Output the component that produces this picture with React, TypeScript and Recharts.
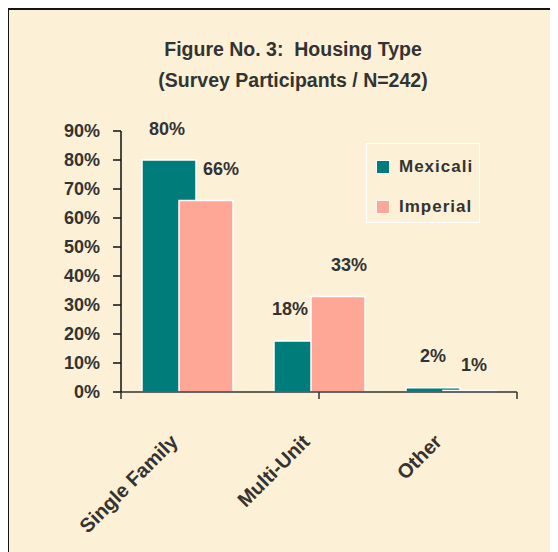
import { BarChart, Bar, XAxis, YAxis, LabelList, Legend } from "recharts";

const CATEGORIES = ["Single Family", "Multi-Unit", "Other"];
const MEXICALI = [80, 17.6, 1.5];
const IMPERIAL = [66, 32.9, 0.5];
const Y_TICKS = [0, 10, 20, 30, 40, 50, 60, 70, 80, 90];

const SERIES = [
    { key: "Mexicali", color: "#007C7B" },
    { key: "Imperial", color: "#FFA797" },
];

// hand-placed label nudges, as in the original figure
const LABEL_NUDGE: Record<string, { dx: number; dy: number }[]> = {
    Mexicali: [
        { dx: -2, dy: 1 },
        { dx: -11, dy: 0 },
        { dx: 0, dy: 0 },
    ],
    Imperial: [
        { dx: 15, dy: 0 },
        { dx: 11, dy: 0 },
        { dx: 4, dy: 6 },
    ],
};

const FONT = '"Liberation Sans", Arial, sans-serif';
const TEXT = "#333333";
const BG = "#FCF0D6";

const data = CATEGORIES.map((name, i) => ({
    name,
    Mexicali: MEXICALI[i],
    Imperial: IMPERIAL[i],
}));

const edgeTicks = [...CATEGORIES.map((_, i) => i), CATEGORIES.length];

const CategoryTick = (props: any) => {
    const { x, y, payload } = props;
    return (
        <text
            transform={`translate(${x - 8},${y + 50}) rotate(-45)`}
            textAnchor="end"
            fontSize={20}
            fontWeight="bold"
            fontFamily={FONT}
            fill={TEXT}
        >
            {payload.value}
        </text>
    );
};

const EmptyTick = () => <g />;

const makeLabel = (series: string) => (props: any) => {
    const { x, y, width, value, index } = props;
    const nudge = LABEL_NUDGE[series][index] || { dx: 0, dy: 0 };
    return (
        <text
            x={x + width / 2 + nudge.dx}
            y={y - 32 + nudge.dy}
            dy="0.35em"
            textAnchor="middle"
            fontSize={18}
            fontWeight="bold"
            fontFamily={FONT}
            fill={TEXT}
        >
            {`${Math.round(value)}%`}
        </text>
    );
};

const LegendBox = () => (
    <div
        style={{
            width: 114,
            height: 80,
            boxSizing: "border-box",
            border: "1px solid #ffffff",
            fontFamily: FONT,
            fontWeight: "bold",
            fontSize: 17,
            letterSpacing: 1,
            color: TEXT,
            position: "relative",
        }}
    >
        {SERIES.map((s, i) => (
            <div
                key={s.key}
                style={{
                    position: "absolute",
                    left: 9,
                    top: 12 + i * 40,
                    display: "flex",
                    alignItems: "center",
                    height: 22,
                }}
            >
                <span
                    style={{
                        width: 14,
                        height: 14,
                        boxSizing: "border-box",
                        background: s.color,
                        border: "1.5px solid #ffffff",
                        marginRight: 9,
                        display: "inline-block",
                    }}
                />
                <span>{s.key}</span>
            </div>
        ))}
    </div>
);

export default function App() {
    return (
        <div
            style={{
                position: "relative",
                width: 550,
                height: 544,
                background: BG,
                fontFamily: FONT,
            }}
        >
            <div
                style={{
                    position: "absolute",
                    left: -1,
                    top: 0,
                    right: 0,
                    bottom: 0,
                    borderTop: "2px solid #151515",
                    borderLeft: "2px solid #151515",
                }}
            />
            <div
                style={{
                    position: "absolute",
                    left: 0,
                    width: 570,
                    top: 29,
                    lineHeight: "24px",
                    textAlign: "center",
                    fontSize: 19.5,
                    fontWeight: "bold",
                    color: TEXT,
                }}
            >
                Figure No. 3:&nbsp; Housing Type
            </div>
            <div
                style={{
                    position: "absolute",
                    left: 0,
                    width: 570,
                    top: 60,
                    lineHeight: "24px",
                    textAlign: "center",
                    fontSize: 19.5,
                    fontWeight: "bold",
                    color: TEXT,
                }}
            >
                (Survey Participants / N=242)
            </div>
            <BarChart
                width={550}
                height={544}
                data={data}
                margin={{ top: 123, right: 41, left: 0, bottom: 0 }}
                barSize={54}
                barGap={-17}
                style={{ position: "absolute", left: 0, top: 0 }}
            >
                <XAxis
                    xAxisId="b"
                    dataKey="name"
                    height={159}
                    interval={0}
                    axisLine={false}
                    tickLine={false}
                    tickSize={0}
                    tickMargin={0}
                    tick={<CategoryTick />}
                />
                <XAxis
                    xAxisId="a"
                    type="number"
                    domain={[0, CATEGORIES.length]}
                    ticks={edgeTicks}
                    interval={0}
                    tick={<EmptyTick />}
                    height={1}
                    axisLine={{ stroke: "#333333", strokeWidth: 1.5 }}
                    tickLine={{ stroke: "#333333", strokeWidth: 1.5 }}
                    tickSize={7}
                />
                <YAxis
                    domain={[0, 90]}
                    ticks={Y_TICKS}
                    width={113}
                    interval={0}
                    tickFormatter={(v) => `${v}%`}
                    axisLine={{ stroke: "#111111", strokeWidth: 1.5 }}
                    tickLine={{ stroke: "#111111", strokeWidth: 1.5 }}
                    tickSize={8}
                    tickMargin={13}
                    tick={{
                        fontSize: 18,
                        fontWeight: "bold",
                        fontFamily: FONT,
                        fill: TEXT,
                    }}
                />
                <Legend
                    layout="horizontal"
                    verticalAlign="middle"
                    align="center"
                    content={() => <LegendBox />}
                    wrapperStyle={{
                        position: "absolute",
                        left: 358,
                        top: 135,
                        width: 114,
                    }}
                />
                {SERIES.map((s) => (
                    <Bar
                        key={s.key}
                        xAxisId="b"
                        dataKey={s.key}
                        fill={s.color}
                        stroke="#ffffff"
                        strokeWidth={1.5}
                        isAnimationActive={false}
                    >
                        <LabelList dataKey={s.key} content={makeLabel(s.key)} />
                    </Bar>
                ))}
            </BarChart>
        </div>
    );
}
